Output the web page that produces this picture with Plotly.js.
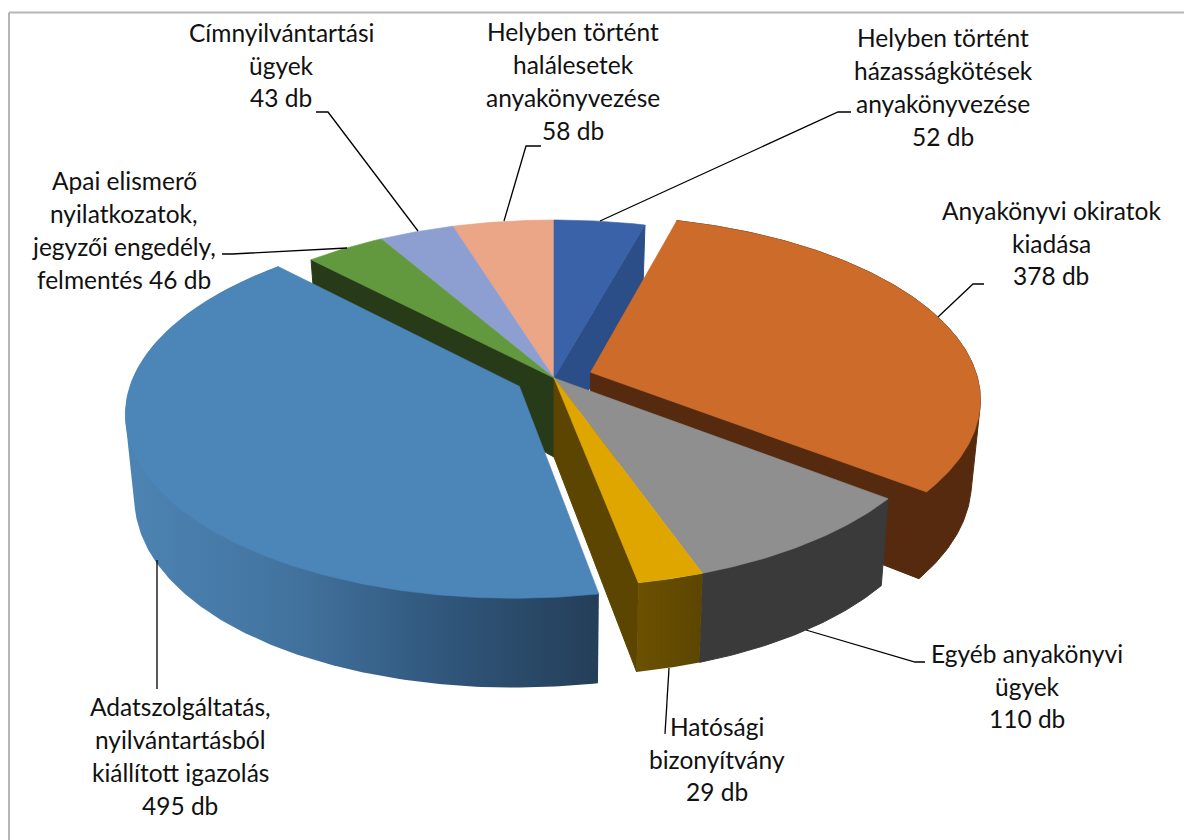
<!DOCTYPE html>
<html><head><meta charset="utf-8">
<script src="https://cdn.plot.ly/plotly-3.0.1.min.js"></script>
<style>html,body{margin:0;padding:0;background:#fff}#c{width:1184px;height:840px}</style>
</head><body><div id="c"></div>
<script>
// ---- data (clockwise from 12 o'clock) ----
const categories = [["Helyben történt","házasságkötések","anyakönyvezése","52 db"],["Anyakönyvi okiratok","kiadása","378 db"],["Egyéb anyakönyvi","ügyek","110 db"],["Hatósági","bizonyítvány","29 db"],["Adatszolgáltatás,","nyilvántartásból","kiállított igazolás","495 db"],["Apai elismerő","nyilatkozatok,","jegyzői engedély,","felmentés 46 db"],["Címnyilvántartási","ügyek","43 db"],["Helyben történt","halálesetek","anyakönyvezése","58 db"]];
const values = [52,378,110,29,495,46,43,58];
const explode = [0,0.1,0,0,0.1,0,0,0];
const topColors = ["#3a62a8","#cd6c2a","#8f8f8f","#dfa600","#4c85b8","#62993f","#8d9ed0","#eba587"];
const wallColors = ["#2b4d88","#552a0f","#3a3a3a","#5c4500","#2a4a68","#273b18","#5f6c90","#a07058"];
const labelX = [943,1051,1027,717,180,124,281,573];
const labelY = [87,243,686,759,756,230,65,81];
const leaders = [
 [[851,838,600],[112,112,221]],
 [[984,973,938],[284,284,317]],
 [[925,915,806],[662,662,630]],
 [[665,669],[734,668]],
 [[157,157],[560,689]],
 [[222,232,347],[254,254,248]],
 [[316,328,418],[112,112,231]],
 [[541,526,504],[146,146,221]]
];

// ---- projection of the tilted disc onto the page ----
const cx=554, cy=378, RT=387, RyT=180, kT=0.139, RB=379, kY=0.105, AB=79, BB=188;
const topP=(u,v)=>[cx+RT*u/(1-kT*v), cy+RyT*v/(1-kT*v)];
const botP=(u,v)=>[cx+RB*u/(1-kT*v), cy+(AB+BB*v)/(1-kY*v)];

const total=values.reduce((a,b)=>a+b,0);
let acc=0;
const slices=values.map((val,i)=>{
  const a0=acc/total*2*Math.PI; acc+=val; const a1=acc/total*2*Math.PI;
  const m=(a0+a1)/2, ox=explode[i]*Math.sin(m), oy=-explode[i]*Math.cos(m);
  const pt=a=>[Math.sin(a)+ox,-Math.cos(a)+oy];
  const n=Math.max(8,Math.ceil((a1-a0)*90)), rim=[];
  for(let j=0;j<=n;j++) rim.push(pt(a0+(a1-a0)*j/n));
  return {i,a0,a1,apex:[ox,oy],rim};
});
function hull(pts){
  const p=pts.slice().sort((a,b)=>a[0]-b[0]||a[1]-b[1]);
  const cross=(o,a,b)=>(a[0]-o[0])*(b[1]-o[1])-(a[1]-o[1])*(b[0]-o[0]);
  const half=list=>{const h=[];list.forEach(q=>{while(h.length>1&&cross(h[h.length-2],h[h.length-1],q)<=0)h.pop();h.push(q);});h.pop();return h;};
  return half(p).concat(half(p.slice().reverse()));
}
function poly(pts,color,grad,lw){
  const xs=pts.map(p=>p[0]), ys=pts.map(p=>p[1]);
  xs.push(xs[0]); ys.push(ys[0]);
  const t={type:'scatter',mode:'lines',x:xs,y:ys,fill:'toself',fillcolor:color,
    line:{width:lw||0.6,color:color},hoverinfo:'skip',showlegend:false};
  if(grad){t.fillgradient=grad;t.line={width:0};}
  return t;
}
const topFace=s=>poly([topP(...s.apex),...s.rim.map(p=>topP(...p))],topColors[s.i]);
const side=(s,grad)=>poly([...s.rim.map(p=>topP(...p)),...s.rim.slice().reverse().map(p=>botP(...p))],wallColors[s.i],grad,1);
const sideHull=(s,grad)=>poly(hull([...s.rim.map(p=>topP(...p)),...s.rim.map(p=>botP(...p))]),wallColors[s.i],grad,1);
const wall=(s,end)=>{const r=end?s.rim[s.rim.length-1]:s.rim[0];
  return poly([topP(...s.apex),topP(...r),botP(...r),botP(...s.apex)],wallColors[s.i],null,1);};

const blueGrad={type:'horizontal',start:126,stop:600,colorscale:[[0,'#4d84b3'],[0.35,'#42739f'],[0.7,'#2f5478'],[1,'#243e58']]};
const goldGrad={type:'horizontal',start:637,stop:703,colorscale:[[0,'#6b5100'],[1,'#5c4500']]};
const S=slices, traces=[];
// back to front
traces.push(wall(S[0],true), wall(S[5],false), wall(S[3],true));
[S[7],S[6],S[5],S[0]].forEach(s=>traces.push(topFace(s)));
traces.push(wall(S[1],true), sideHull(S[1]), topFace(S[1]));
traces.push(side(S[2]), topFace(S[2]));
traces.push(side(S[3],goldGrad), topFace(S[3]));
traces.push(sideHull(S[4],blueGrad), topFace(S[4]));
leaders.forEach(l=>traces.push({type:'scatter',mode:'lines',x:l[0],y:l[1],line:{color:'#000',width:1.3},hoverinfo:'skip',showlegend:false}));

const lineGap=32.7, annotations=[];
categories.forEach((lines,i)=>lines.forEach((t,j)=>annotations.push({text:t,x:labelX[i],y:labelY[i]+(j-(lines.length-1)/2)*lineGap,xref:'x',yref:'y',showarrow:false,align:'center',xanchor:'center',yanchor:'middle',font:{family:'Lato, Carlito, sans-serif',size:24.5,color:'#111'}})));

const frame=(x0,y0,x1,y1)=>({type:'line',xref:'x',yref:'y',x0,y0,x1,y1,line:{color:'#b5b5b5',width:2},layer:'below'});
const layout={width:1184,height:840,margin:{l:0,r:0,t:0,b:0},paper_bgcolor:'#fff',plot_bgcolor:'#fff',showlegend:false,
  xaxis:{range:[0,1184],visible:false,fixedrange:true},
  yaxis:{range:[840,0],visible:false,fixedrange:true},
  annotations,
  shapes:[frame(9,12.5,1184,12.5),frame(9,12.5,9,840)]};
Plotly.newPlot('c',traces,layout,{staticPlot:true,displayModeBar:false});
</script></body></html>
